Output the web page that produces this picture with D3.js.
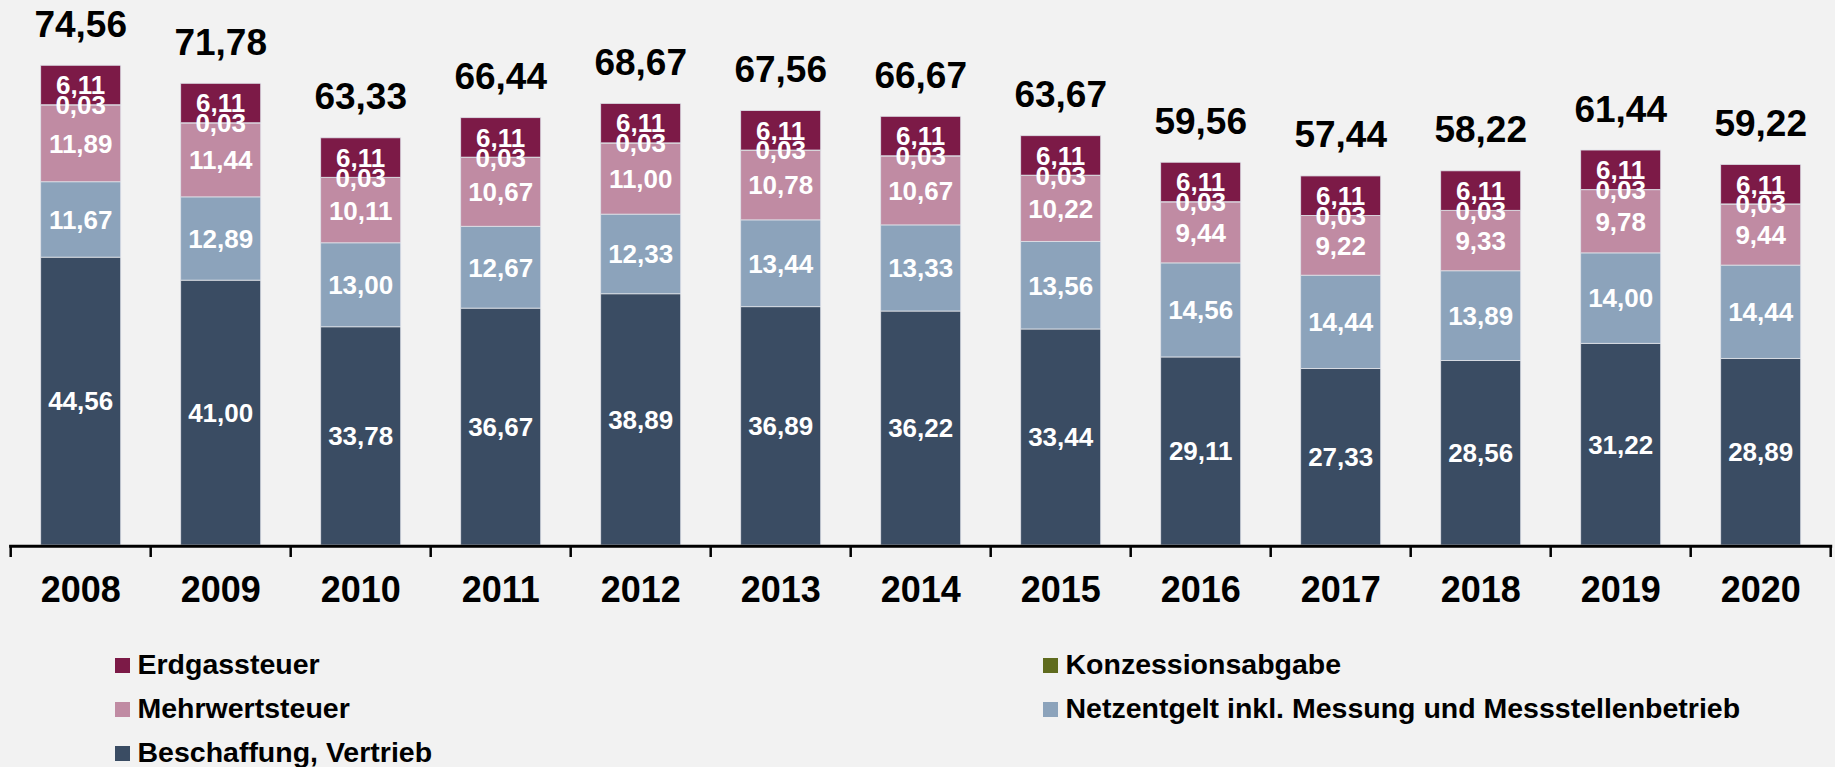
<!DOCTYPE html>
<meta charset="utf-8">
<style>
	body { margin: 0; background: #f2f2f2; }
	svg { display: block; font-family: "Liberation Sans", Arial, sans-serif; font-weight: bold; }
</style>
<script src="https://d3js.org/d3.v7.min.js"></script>
<body>
<div id="chart"></div>
<script>
	var years = ["2008","2009","2010","2011","2012","2013","2014","2015","2016","2017","2018","2019","2020"];
	var beschaffung = [44.56, 41.00, 33.78, 36.67, 38.89, 36.89, 36.22, 33.44, 29.11, 27.33, 28.56, 31.22, 28.89];
	var netzentgelt = [11.67, 12.89, 13.00, 12.67, 12.33, 13.44, 13.33, 13.56, 14.56, 14.44, 13.89, 14.00, 14.44];
	var mehrwertsteuer = [11.89, 11.44, 10.11, 10.67, 11.00, 10.78, 10.67, 10.22, 9.44, 9.22, 9.33, 9.78, 9.44];
	var konzession = [0.03, 0.03, 0.03, 0.03, 0.03, 0.03, 0.03, 0.03, 0.03, 0.03, 0.03, 0.03, 0.03];
	var erdgassteuer = [6.11, 6.11, 6.11, 6.11, 6.11, 6.11, 6.11, 6.11, 6.11, 6.11, 6.11, 6.11, 6.11];
	var totals = [74.56, 71.78, 63.33, 66.44, 68.67, 67.56, 66.67, 63.67, 59.56, 57.44, 58.22, 61.44, 59.22];

	// stack order bottom -> top
	var series = [
		{name: "Beschaffung, Vertrieb", values: beschaffung, color: "#3a4c63"},
		{name: "Netzentgelt inkl. Messung und Messstellenbetrieb", values: netzentgelt, color: "#8ca3bb"},
		{name: "Mehrwertsteuer", values: mehrwertsteuer, color: "#c08ba3"},
		{name: "Konzessionsabgabe", values: konzession, color: "#5f6b1e"},
		{name: "Erdgassteuer", values: erdgassteuer, color: "#7c1a47"}
	];
	// legend order, row by row
	var legendOrder = ["Erdgassteuer", "Konzessionsabgabe", "Mehrwertsteuer",
		"Netzentgelt inkl. Messung und Messstellenbetrieb", "Beschaffung, Vertrieb"];

	var width = 1835, height = 767;
	var fmt = d3.formatLocale({decimal: ",", thousands: ".", grouping: [3], currency: ["", "€"]}).format(".2f");

	var svg = d3.select("#chart").append("svg")
		.attr("width", width)
		.attr("height", height);

	var x = d3.scaleBand()
		.domain(years)
		.range([10.7, 1830.7])
		.paddingInner(0.4286)
		.paddingOuter(0.2143);

	var y = d3.scaleLinear()
		.domain([0, 80])
		.range([545, 545 - 6.46 * 80]);

	// build stacked table
	var table = years.map(function(yr, i) {
		var row = {year: yr, total: totals[i]};
		series.forEach(function(s) { row[s.name] = s.values[i]; });
		return row;
	});
	var stacked = d3.stack().keys(series.map(function(s) { return s.name; }))(table);

	var layers = svg.selectAll("g.layer")
		.data(stacked)
		.enter().append("g")
		.attr("class", "layer")
		.attr("fill", function(d, i) { return series[i].color; });

	layers.selectAll("rect")
		.data(function(d) { return d; })
		.enter().append("rect")
		.attr("x", function(d) { return x(d.data.year); })
		.attr("width", x.bandwidth())
		.attr("y", function(d) { return y(d[1]); })
		.attr("height", function(d) { return y(d[0]) - y(d[1]); })
		.attr("stroke", "#dfe2e8")
		.attr("stroke-width", 0.8);

	// segment labels, drawn above every rect
	var labels = svg.selectAll("g.labels")
		.data(stacked)
		.enter().append("g")
		.attr("class", "labels");
	labels.selectAll("text")
		.data(function(d) { return d; })
		.enter().append("text")
		.attr("x", function(d) { return x(d.data.year) + x.bandwidth() / 2; })
		.attr("y", function(d) { return (y(d[0]) + y(d[1])) / 2; })
		.attr("dy", "0.36em")
		.attr("text-anchor", "middle")
		.attr("fill", "#fff")
		.style("font-size", "26px")
		.text(function(d) { return fmt(d[1] - d[0]); });

	// totals
	svg.selectAll("text.total")
		.data(stacked[stacked.length - 1])
		.enter().append("text")
		.attr("class", "total")
		.attr("x", function(d) { return x(d.data.year) + x.bandwidth() / 2; })
		.attr("y", function(d) { return y(d[1]) - 28.5; })
		.attr("text-anchor", "middle")
		.attr("fill", "#000")
		.style("font-size", "37px")
		.text(function(d) { return fmt(d.data.total); });

	// axis: line, ticks at band boundaries, year labels
	var x0 = x.range()[0], x1 = x.range()[1];
	var axis = svg.append("g");
	axis.append("line")
		.attr("x1", x0 - 1.5).attr("x2", x1 + 1.5)
		.attr("y1", y(0) + 1.2).attr("y2", y(0) + 1.2)
		.attr("stroke", "#000").attr("stroke-width", 3);
	axis.selectAll("line.tick")
		.data(d3.range(years.length + 1))
		.enter().append("line")
		.attr("class", "tick")
		.attr("x1", function(i) { return x0 + i * x.step(); })
		.attr("x2", function(i) { return x0 + i * x.step(); })
		.attr("y1", y(0)).attr("y2", y(0) + 12)
		.attr("stroke", "#000").attr("stroke-width", 2.5);
	axis.selectAll("text")
		.data(years)
		.enter().append("text")
		.attr("x", function(d) { return x(d) + x.bandwidth() / 2; })
		.attr("y", 601.7)
		.attr("text-anchor", "middle")
		.style("font-size", "36px")
		.text(function(d) { return d; });

	// legend
	var colorOf = {};
	series.forEach(function(s) { colorOf[s.name] = s.color; });
	var legend = svg.selectAll("g.legend")
		.data(legendOrder)
		.enter().append("g")
		.attr("class", "legend")
		.attr("transform", function(d, i) {
			var col = i % 2, row = Math.floor(i / 2);
			return "translate(" + (col ? 1043 : 115) + "," + (658 + row * 44) + ")";
		});
	legend.append("rect")
		.attr("width", 15).attr("height", 15)
		.attr("fill", function(d) { return colorOf[d]; });
	legend.append("text")
		.attr("x", 22.5)
		.attr("y", 16)
		.style("font-size", "28.5px")
		.text(function(d) { return d; });
</script>
</body>
